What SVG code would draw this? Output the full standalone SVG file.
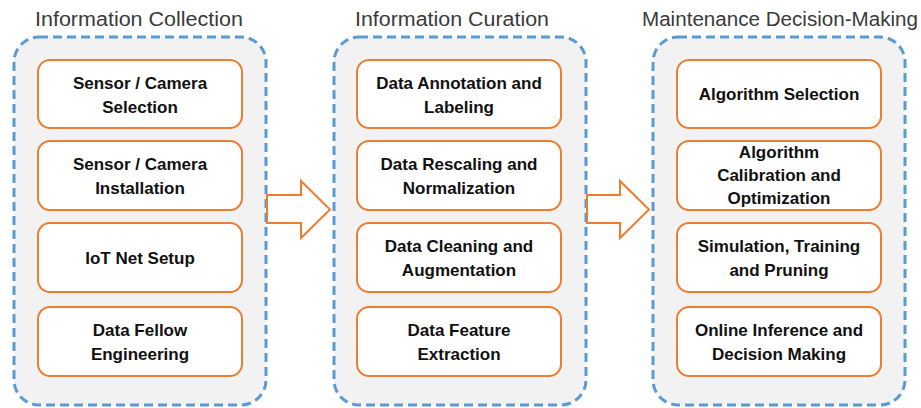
<svg xmlns="http://www.w3.org/2000/svg" width="921" height="408" viewBox="0 0 921 408">
<style>
.cont{fill:#f2f2f2;stroke:#5b9bd5;stroke-width:3;stroke-dasharray:9 5}
.box{fill:#ffffff;stroke:#ed7d31;stroke-width:2}
.arr{fill:#ffffff;stroke:#ed7d31;stroke-width:2;stroke-linejoin:miter}
.title{font-family:"Liberation Sans",Arial,sans-serif;font-size:20px;fill:#3a3a3a;text-anchor:middle}
.lbl{font-family:"Liberation Sans",Arial,sans-serif;font-size:17px;font-weight:bold;fill:#111111;text-anchor:middle}
</style>
<rect width="921" height="408" fill="#ffffff"/>
<g id="stage-collection">
<text class="title" x="139" y="26" textLength="208" lengthAdjust="spacingAndGlyphs">Information Collection</text>
<rect class="cont" x="14" y="37" width="252" height="368" rx="25"/>
</g>
<g id="stage-curation">
<text class="title" x="452" y="26" textLength="194" lengthAdjust="spacingAndGlyphs">Information Curation</text>
<rect class="cont" x="334" y="37" width="252" height="368" rx="25"/>
</g>
<g id="stage-decision">
<text class="title" x="780" y="26" textLength="276" lengthAdjust="spacingAndGlyphs">Maintenance Decision-Making</text>
<rect class="cont" x="653" y="37" width="252" height="368" rx="25"/>
</g>
<g id="n1"><rect class="box" x="38" y="60" width="204" height="68" rx="12"/><text class="lbl" x="140" y="89">Sensor / Camera</text><text class="lbl" x="140" y="113">Selection</text></g>
<g id="n2"><rect class="box" x="38" y="141" width="204" height="69" rx="12"/><text class="lbl" x="140" y="170">Sensor / Camera</text><text class="lbl" x="140" y="194">Installation</text></g>
<g id="n3"><rect class="box" x="38" y="223" width="204" height="69" rx="12"/><text class="lbl" x="140" y="264">IoT Net Setup</text></g>
<g id="n4"><rect class="box" x="38" y="307" width="204" height="69" rx="12"/><text class="lbl" x="140" y="336">Data Fellow</text><text class="lbl" x="140" y="360">Engineering</text></g>
<g id="n5"><rect class="box" x="357" y="60" width="204" height="68" rx="12"/><text class="lbl" x="459" y="89">Data Annotation and</text><text class="lbl" x="459" y="113">Labeling</text></g>
<g id="n6"><rect class="box" x="357" y="141" width="204" height="69" rx="12"/><text class="lbl" x="459" y="170">Data Rescaling and</text><text class="lbl" x="459" y="194">Normalization</text></g>
<g id="n7"><rect class="box" x="357" y="223" width="204" height="69" rx="12"/><text class="lbl" x="459" y="252">Data Cleaning and</text><text class="lbl" x="459" y="276">Augmentation</text></g>
<g id="n8"><rect class="box" x="357" y="307" width="204" height="69" rx="12"/><text class="lbl" x="459" y="336">Data Feature</text><text class="lbl" x="459" y="360">Extraction</text></g>
<g id="n9"><rect class="box" x="677" y="60" width="204" height="68" rx="12"/><text class="lbl" x="779" y="100">Algorithm Selection</text></g>
<g id="n10"><rect class="box" x="677" y="141" width="204" height="69" rx="12"/><text class="lbl" x="779" y="158">Algorithm</text><text class="lbl" x="779" y="181">Calibration and</text><text class="lbl" x="779" y="204">Optimization</text></g>
<g id="n11"><rect class="box" x="677" y="223" width="204" height="69" rx="12"/><text class="lbl" x="779" y="252">Simulation, Training</text><text class="lbl" x="779" y="276">and Pruning</text></g>
<g id="n12"><rect class="box" x="677" y="307" width="204" height="69" rx="12"/><text class="lbl" x="779" y="336">Online Inference and</text><text class="lbl" x="779" y="360">Decision Making</text></g>
<g id="connectors">
<polygon class="arr" points="267,195 301,195 301,181 330,209.5 301,238 301,223 267,223"/>
<polygon class="arr" points="587,195 620,195 620,181 649,209.5 620,238 620,223 587,223"/>
</g>
</svg>
